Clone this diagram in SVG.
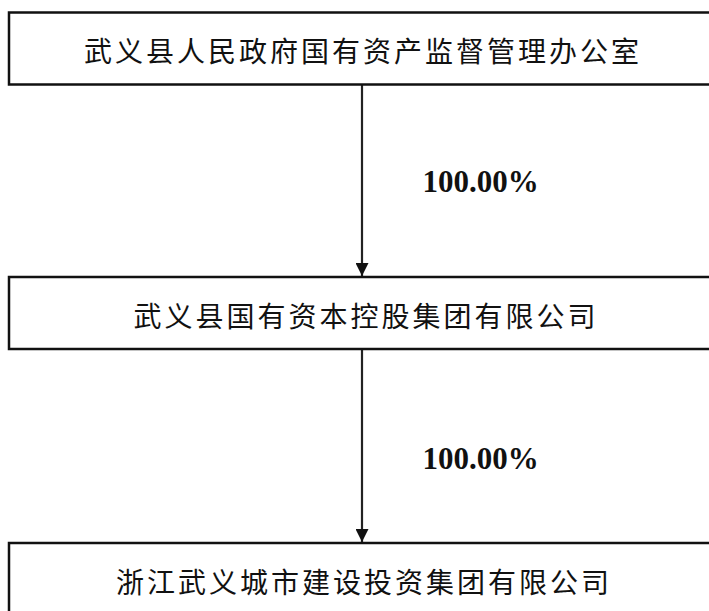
<svg xmlns="http://www.w3.org/2000/svg" width="709" height="611" viewBox="0 0 709 611">
  <style>
    .box { fill: #ffffff; stroke: #111111; stroke-width: 2.5; }
    .name { font-family: "Noto Sans CJK SC", "Noto Sans CJK JP", sans-serif; font-size: 28px; fill: #111111; letter-spacing: 3px; text-anchor: middle; dominant-baseline: central; }
    .pct { font-family: "Liberation Serif", "Times New Roman", serif; font-size: 31px; font-weight: bold; fill: #111111; text-anchor: middle; }
    .conn { stroke: #222222; stroke-width: 2.2; fill: none; marker-end: url(#arrow); }
  </style>
  <defs>
    <marker id="arrow" markerWidth="13" markerHeight="13" viewBox="0 0 13 13" refX="13" refY="6.5" orient="auto" markerUnits="userSpaceOnUse">
      <path d="M0,0 L13,6.5 L0,13 Z" fill="#111111"/>
    </marker>
  </defs>
  <rect width="709" height="611" fill="#ffffff"/>
  <g id="connectors">
    <line class="conn" x1="362" y1="85" x2="362" y2="276"/>
    <line class="conn" x1="362" y1="350" x2="362" y2="542"/>
    <text class="pct" x="480.5" y="192">100.00%</text>
    <text class="pct" x="480.5" y="469">100.00%</text>
  </g>
  <g id="node1">
    <rect class="box" x="9" y="12.5" width="720" height="72"/>
    <text class="name" x="363" y="50">武义县人民政府国有资产监督管理办公室</text>
  </g>
  <g id="node2">
    <rect class="box" x="9" y="277" width="720" height="72"/>
    <text class="name" x="366" y="315">武义县国有资本控股集团有限公司</text>
  </g>
  <g id="node3">
    <rect class="box" x="9" y="543" width="720" height="90"/>
    <text class="name" x="364" y="581">浙江武义城市建设投资集团有限公司</text>
  </g>
</svg>
